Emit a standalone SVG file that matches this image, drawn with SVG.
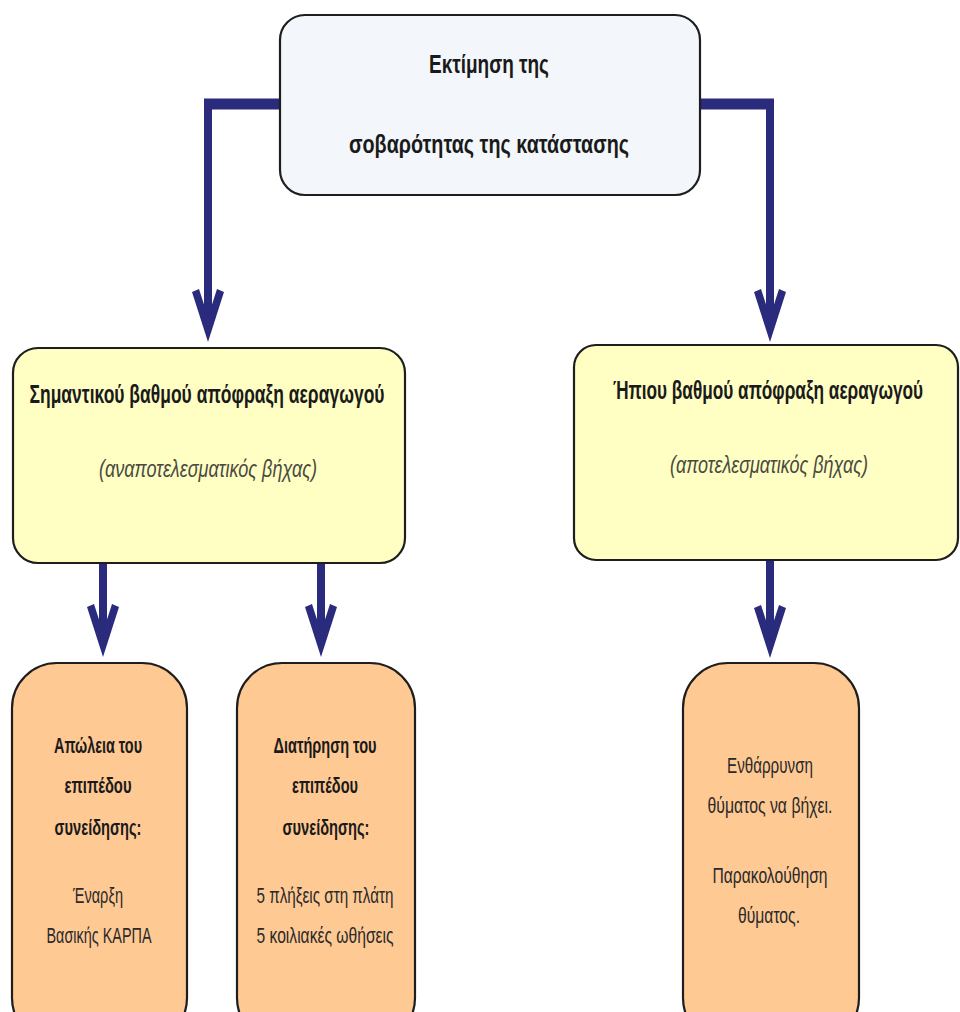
<svg xmlns="http://www.w3.org/2000/svg" width="960" height="1012" viewBox="0 0 960 1012">
<style>
.box{stroke:#1e1e1e;stroke-width:2.2}
.top{fill:#f3f7fc}
.yel{fill:#ffffc4}
.org{fill:#ffc994}
.t{font-family:"Liberation Sans","Noto Sans",sans-serif;text-anchor:middle;fill:#1a1a1a}
.b{font-weight:bold}
.i{font-style:italic;fill:#4a4a40}
.r{fill:#2a2a2a}
.con{fill:none;stroke:#2b2b7d;stroke-width:8}
.hcon{fill:none;stroke:#2b2b7d;stroke-width:11}
</style>
<defs>
<marker id="arr" markerUnits="userSpaceOnUse" viewBox="-60 -20 65 40" refX="-16" refY="0" markerWidth="65" markerHeight="40" orient="auto">
<polygon points="0,0 -50,-16 -53,-9 -25,0 -53,9 -50,16" fill="#2b2b7d"/>
</marker>
</defs>
<g id="connectors">
<path class="hcon" d="M281,104 H204"/>
<path class="con" d="M208,100 V326" marker-end="url(#arr)"/>
<path class="hcon" d="M699,104 H774"/>
<path class="con" d="M770,100 V326" marker-end="url(#arr)"/>
<path class="con" d="M103,563 V641" marker-end="url(#arr)"/>
<path class="con" d="M321,563 V641" marker-end="url(#arr)"/>
<path class="con" d="M770,560 V642" marker-end="url(#arr)"/>
</g>
<g id="n_top">
<rect class="box top" x="280" y="15" width="420" height="180" rx="25"/>
<text class="t b" x="489" y="73" font-size="26" textLength="120" lengthAdjust="spacingAndGlyphs">Εκτίμηση της</text>
<text class="t b" x="489" y="153" font-size="26" textLength="280" lengthAdjust="spacingAndGlyphs">σοβαρότητας της κατάστασης</text>
</g>
<g id="n_severe">
<rect class="box yel" x="13" y="348" width="392" height="215" rx="25"/>
<text class="t b" x="207" y="403" font-size="26" textLength="355" lengthAdjust="spacingAndGlyphs">Σημαντικού βαθμού απόφραξη αεραγωγού</text>
<text class="t i" x="208" y="477" font-size="24" textLength="218" lengthAdjust="spacingAndGlyphs">(αναποτελεσματικός βήχας)</text>
</g>
<g id="n_mild">
<rect class="box yel" x="574" y="345" width="384" height="215" rx="22"/>
<text class="t b" transform="translate(768,399) scale(0.7,1)" x="0" y="0" font-size="26" textLength="443" lengthAdjust="spacingAndGlyphs">Ήπιου βαθμού απόφραξη αεραγωγού</text>
<text class="t i" x="769" y="473" font-size="24" textLength="198" lengthAdjust="spacingAndGlyphs">(αποτελεσματικός βήχας)</text>
</g>
<g id="n_loss">
<rect class="box org" x="12" y="663" width="175" height="380" rx="45"/>
<text class="t b" x="98" y="753" font-size="22" textLength="88" lengthAdjust="spacingAndGlyphs">Απώλεια του</text>
<text class="t b" x="98" y="793" font-size="22" textLength="67" lengthAdjust="spacingAndGlyphs">επιπέδου</text>
<text class="t b" x="98" y="835" font-size="22" textLength="87" lengthAdjust="spacingAndGlyphs">συνείδησης:</text>
<text class="t r" x="98" y="903" font-size="22" textLength="50" lengthAdjust="spacingAndGlyphs">Έναρξη</text>
<text class="t r" x="99" y="943" font-size="22" textLength="105" lengthAdjust="spacingAndGlyphs">Βασικής ΚΑΡΠΑ</text>
</g>
<g id="n_keep">
<rect class="box org" x="237" y="663" width="178" height="380" rx="45"/>
<text class="t b" x="325" y="753" font-size="22" textLength="103" lengthAdjust="spacingAndGlyphs">Διατήρηση του</text>
<text class="t b" x="325" y="793" font-size="22" textLength="66" lengthAdjust="spacingAndGlyphs">επιπέδου</text>
<text class="t b" x="326" y="835" font-size="22" textLength="87" lengthAdjust="spacingAndGlyphs">συνείδησης:</text>
<text class="t r" x="325" y="903" font-size="22" textLength="137" lengthAdjust="spacingAndGlyphs">5 πλήξεις στη πλάτη</text>
<text class="t r" x="325" y="943" font-size="22" textLength="137" lengthAdjust="spacingAndGlyphs">5 κοιλιακές ωθήσεις</text>
</g>
<g id="n_encourage">
<rect class="box org" x="683" y="663" width="176" height="380" rx="45"/>
<text class="t r" x="770" y="773" font-size="22" textLength="86" lengthAdjust="spacingAndGlyphs">Ενθάρρυνση</text>
<text class="t r" x="770" y="813" font-size="22" textLength="125" lengthAdjust="spacingAndGlyphs">θύματος να βήχει.</text>
<text class="t r" x="770" y="883" font-size="22" textLength="115" lengthAdjust="spacingAndGlyphs">Παρακολούθηση</text>
<text class="t r" x="769" y="923" font-size="22" textLength="62" lengthAdjust="spacingAndGlyphs">θύματος.</text>
</g>
</svg>
